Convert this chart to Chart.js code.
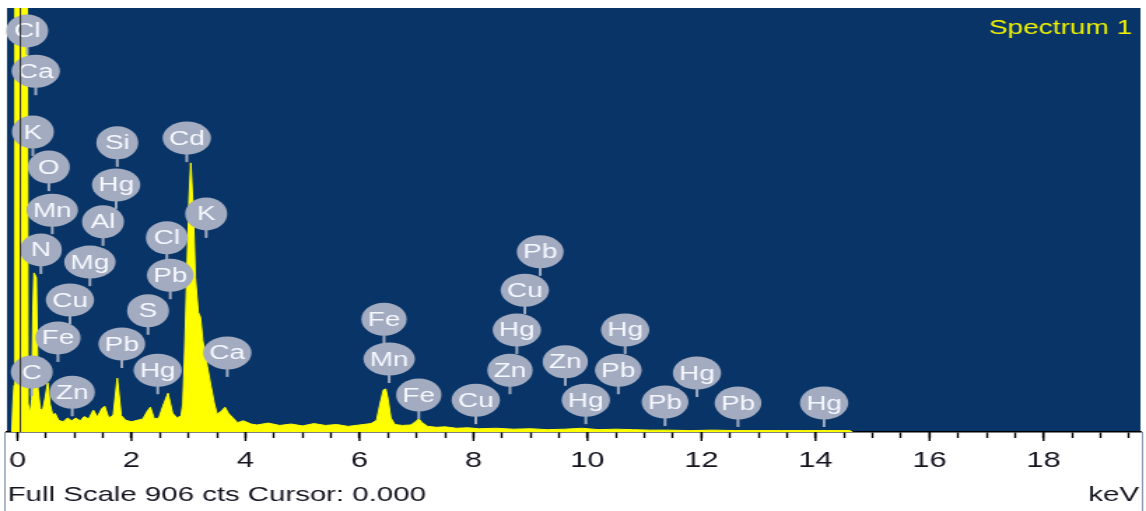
<!DOCTYPE html>
<html>
<head>
<meta charset="utf-8">
<script src="https://cdn.jsdelivr.net/npm/chart.js@4/dist/chart.umd.min.js"></script>
<style>
  html, body { margin: 0; padding: 0; background: #fff; overflow: hidden; }
  /* the source picture is stretched sideways, so draw narrow and stretch */
  #spec { display: block; transform-origin: 0 0; transform: scaleX(1.3993); }
</style>
</head>
<body>
<canvas id="spec" width="819" height="511"></canvas>
<script>
// EDS spectrum: energy (keV) and counts
const energyKeV = [-0.10, -0.08, -0.06, -0.045, 0.17, 0.185, 0.22, 0.25, 0.27, 0.29, 0.33, 0.36, 0.40, 0.44, 0.48, 0.53, 0.57, 0.62, 0.66, 0.72,
  0.80, 0.88, 0.95, 1.02, 1.10, 1.17, 1.25, 1.33, 1.40, 1.48, 1.53, 1.60, 1.68, 1.75, 1.82, 1.90, 2.00, 2.10, 2.20, 2.28,
  2.33, 2.40, 2.48, 2.55, 2.64, 2.72, 2.80, 2.87, 2.90, 2.93, 2.97, 3.01, 3.04, 3.08, 3.12, 3.17, 3.21, 3.25, 3.33, 3.39,
  3.45, 3.50, 3.58, 3.64, 3.70, 3.78, 3.86, 3.96, 4.10, 4.20, 4.40, 4.60, 4.80, 5.00, 5.20, 5.40, 5.60, 5.80, 6.00, 6.20,
  6.30, 6.36, 6.42, 6.46, 6.50, 6.55, 6.62, 6.75, 6.90, 6.98, 7.04, 7.10, 7.20, 7.35, 7.50, 7.70, 7.90, 8.10, 8.40, 8.70,
  9.00, 9.30, 9.60, 9.90, 10.20, 10.50, 10.80, 11.10, 11.40, 11.80, 12.20, 12.60, 13.00, 13.40, 13.80, 14.20, 14.60, 14.65];
const counts = [0, 60, 100, 980, 980, 60, 40, 70, 260, 340, 330, 90, 50, 45, 70, 105, 60, 35, 40, 25,
  22, 30, 24, 30, 24, 33, 28, 47, 32, 50, 55, 30, 36, 115, 35, 25, 22, 25, 28, 45,
  53, 28, 30, 55, 83, 40, 30, 35, 60, 160, 330, 500, 575, 480, 330, 256, 245, 195, 140, 100,
  62, 38, 45, 53, 40, 30, 20, 24, 17, 15, 19, 14, 17, 13, 18, 14, 16, 12, 15, 18,
  25, 60, 90, 92, 70, 30, 16, 14, 15, 22, 28, 20, 12, 10, 11, 8, 9, 7, 8, 6,
  7, 5, 6, 8, 5, 6, 5, 4, 4, 3, 4, 3, 3, 3, 3, 3, 3, 0];

// element markers: name, energy and the height of the balloon centre (counts)
const labelNames = ['Cl', 'Ca', 'K', 'O', 'Mn', 'N', 'Mg', 'Cu', 'Fe', 'C', 'Zn',
  'Si', 'Hg', 'Al', 'Cd', 'K', 'Cl', 'Pb', 'S', 'Pb', 'Hg', 'Ca',
  'Fe', 'Mn', 'Fe', 'Cu', 'Pb', 'Cu', 'Hg', 'Zn', 'Zn', 'Hg', 'Hg', 'Pb', 'Pb', 'Hg', 'Pb', 'Hg'];
const labelKeV = [0.17, 0.32, 0.27, 0.55, 0.61, 0.41, 1.27, 0.92, 0.71, 0.25, 0.96,
  1.75, 1.73, 1.50, 2.97, 3.31, 2.62, 2.68, 2.29, 1.83, 2.46, 3.68,
  6.43, 6.52, 7.04, 8.04, 9.17, 8.90, 8.76, 8.64, 9.61, 9.97, 10.66, 10.54, 11.36, 11.92, 12.64, 14.15];
const labelCounts = [857, 771, 641, 566, 474, 389, 363, 282, 201, 128, 85,
  618, 528, 449, 628, 466, 415, 335, 259, 188, 132, 169,
  241, 156, 79, 68, 385, 303, 218, 132, 150, 68, 218, 132, 64, 126, 62, 62];

const tickLabels = [0, 2, 4, 6, 8, 10, 12, 14, 16, 18];
const fullScale = 906;
const cursorKeV = 0.05;
const xMinKeV = -0.184, xMaxKeV = 19.70;

const navy = '#083468';
const balloon = '#a2abbf';
const fontFam = '"Liberation Sans", Arial, sans-serif';

const specPlugin = {
    id: 'spec',
    beforeDraw(chart) {
        const { ctx, chartArea: a } = chart;
        ctx.save();
        ctx.fillStyle = navy;
        ctx.fillRect(a.left, a.top, a.right - a.left, a.bottom - a.top);
        ctx.restore();
    },
    afterDatasetsDraw(chart) {
        const { ctx, chartArea: a } = chart;
        const xs = chart.scales.x, ys = chart.scales.y;
        ctx.save();
        ctx.font = '20px ' + fontFam;
        ctx.textAlign = 'center';
        ctx.textBaseline = 'middle';
        for (let i = 0; i < labelNames.length; i++) {
            const cx = xs.getPixelForValue(labelKeV[i]);
            const cy = ys.getPixelForValue(labelCounts[i]);
            const w = Math.max(30, ctx.measureText(labelNames[i]).width + 9);
            // stem
            ctx.strokeStyle = balloon;
            ctx.lineWidth = 2;
            ctx.beginPath();
            ctx.moveTo(cx, cy + 10);
            ctx.lineTo(cx, cy + 24);
            ctx.stroke();
            // balloon
            ctx.fillStyle = balloon;
            ctx.beginPath();
            ctx.ellipse(cx, cy, w / 2, 16.5, 0, 0, Math.PI * 2);
            ctx.fill();
            ctx.fillStyle = '#f6f8ff';
            ctx.fillText(labelNames[i], cx, cy + 1);
        }
        // cursor
        const px = xs.getPixelForValue(cursorKeV);
        ctx.strokeStyle = '#2a2a2a';
        ctx.lineWidth = 1;
        ctx.beginPath();
        ctx.moveTo(px, a.top);
        ctx.lineTo(px, a.bottom);
        ctx.stroke();
        // spectrum name
        ctx.fillStyle = '#f2f200';
        ctx.textAlign = 'right';
        ctx.textBaseline = 'alphabetic';
        ctx.fillText('Spectrum 1', 809, 34);
        ctx.restore();
    },
    afterDraw(chart) {
        const { ctx, chartArea: a } = chart;
        const xs = chart.scales.x;
        ctx.save();
        // longer ticks at labelled values
        ctx.strokeStyle = '#000';
        ctx.lineWidth = 1.4;
        tickLabels.forEach(v => {
            const px = xs.getPixelForValue(v);
            ctx.beginPath();
            ctx.moveTo(px, a.bottom);
            ctx.lineTo(px, a.bottom + 9);
            ctx.stroke();
        });
        ctx.fillStyle = '#141420';
        ctx.font = '21px ' + fontFam;
        ctx.textBaseline = 'alphabetic';
        ctx.textAlign = 'left';
        ctx.fillText('Full Scale ' + fullScale + ' cts Cursor: 0.000', 5.5, 501);
        ctx.textAlign = 'right';
        ctx.fillText('keV', 814, 501);
        // frame
        ctx.strokeStyle = '#8494ac';
        ctx.lineWidth = 1;
        ctx.beginPath();
        ctx.moveTo(3.5, a.bottom);
        ctx.lineTo(3.5, 511);
        ctx.moveTo(816.5, a.bottom);
        ctx.lineTo(816.5, 511);
        ctx.stroke();
        ctx.restore();
    }
};

const chart = new Chart(document.getElementById('spec'), {
    type: 'line',
    data: {
        datasets: [{
            data: energyKeV.map((e, i) => ({ x: e, y: counts[i] })),
            borderColor: '#ffff00',
            backgroundColor: '#ffff00',
            borderWidth: 1,
            pointRadius: 0,
            fill: 'origin',
            tension: 0,
        }],
    },
    options: {
        responsive: false,
        devicePixelRatio: 1,
        animation: false,
        layout: { padding: { left: 5, right: 4, top: 8, bottom: 0 } },
        plugins: { legend: { display: false }, tooltip: { enabled: false } },
        scales: {
            x: {
                type: 'linear',
                min: xMinKeV,
                max: xMaxKeV,
                afterFit(scale) {
                    scale.height = 79;
                    scale.paddingLeft = 0;
                    scale.paddingRight = 0;
                },
                grid: { drawOnChartArea: false, tickLength: 6, tickColor: '#000', tickWidth: 1.4 },
                border: { color: '#000', width: 1.5 },
                ticks: {
                    stepSize: 0.5,
                    includeBounds: false,
                    autoSkip: false,
                    maxRotation: 0,
                    padding: 10,
                    color: '#141420',
                    font: { family: fontFam, size: 22 },
                    callback: v => (tickLabels.includes(v) ? String(v) : ''),
                },
            },
            y: { display: false, min: 0, max: fullScale },
        },
    },
    plugins: [specPlugin],
});
</script>
</body>
</html>
